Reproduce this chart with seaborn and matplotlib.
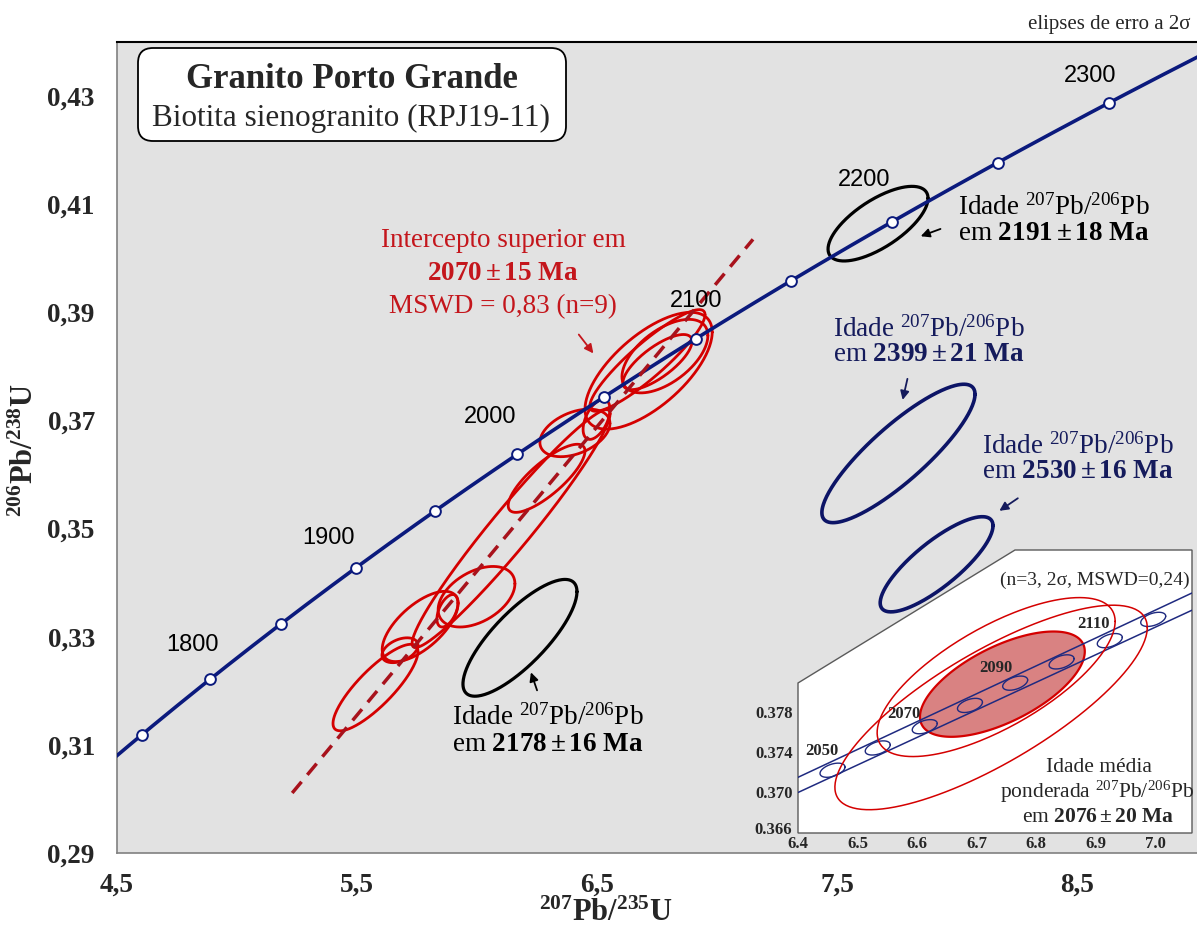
import numpy as np
import pandas as pd
import matplotlib
matplotlib.use("Agg")
import matplotlib.pyplot as plt
import seaborn as sns
from matplotlib.patches import FancyBboxPatch, Polygon
from matplotlib.transforms import ScaledTranslation

# decay constants (1/yr)
L238 = 1.55125e-10
L235 = 9.8485e-10

# concordia age marks (Ma) and the labelled ones with their label shift (pixels)
tick_ages = [1750, 1800, 1850, 1900, 1950, 2000, 2050, 2100, 2150, 2200, 2250, 2300]
label_ages = [1800, 1900, 2000, 2100, 2200, 2300]
label_shift = [(-17, 34), (-28, 30), (-27, 37), (1, 38), (-28, 42), (-19, 27)]

# zircon spots: 2σ ellipse centre, half-extent in x / y and error correlation
red_x = [5.577, 5.679, 5.763, 5.877, 5.998, 6.142, 6.290, 6.408, 6.498, 6.715, 6.710, 6.783, 6.752]
red_y = [0.3206, 0.3275, 0.3319, 0.3348, 0.3374, 0.3500, 0.3593, 0.3677, 0.3702, 0.3792, 0.3811, 0.3819, 0.3808]
red_dx = [0.177, 0.075, 0.158, 0.044, 0.160, 0.4125, 0.160, 0.146, 0.056, 0.265, 0.240, 0.179, 0.144]
red_dy = [0.0080, 0.0023, 0.0065, 0.0030, 0.0056, 0.0220, 0.0063, 0.0044, 0.0037, 0.0108, 0.0094, 0.0068, 0.0051]
red_rho = [0.83, 0.40, 0.65, 0.50, 0.43, 0.965, 0.80, 0.40, 0.50, 0.66, 0.90, 0.56, 0.75]

black_x = [6.179, 7.671]
black_y = [0.3298, 0.4064]
black_dx = [0.2375, 0.2083]
black_dy = [0.0108, 0.0069]
black_rho = [0.79, 0.68]

navy_x = [7.756, 7.915]
navy_y = [0.3639, 0.3434]
navy_dx = [0.319, 0.235]
navy_dy = [0.0128, 0.0088]
navy_rho = [0.855, 0.81]

# discordia (upper intercept 2070 Ma)
disc_x = [5.23, 7.15]
disc_y = [0.3011, 0.4035]

# axis ticks
x_ticks = [4.5, 5.0, 5.5, 6.0, 6.5, 7.0, 7.5, 8.0, 8.5]
x_labels = ["4,5", "", "5,5", "", "6,5", "", "7,5", "", "8,5"]
y_ticks = [0.29, 0.30, 0.31, 0.32, 0.33, 0.34, 0.35, 0.36, 0.37, 0.38, 0.39, 0.40, 0.41, 0.42, 0.43]
y_labels = ["0,29", "", "0,31", "", "0,33", "", "0,35", "", "0,37", "", "0,39", "", "0,41", "", "0,43"]

# detail window: concordia band with decay-constant errors
band_x = [6.40, 7.062]
band_hi = [0.3715, 0.3897]
band_lo = [0.3700, 0.3880]
band_tick_x = [6.458, 6.534, 6.613, 6.689, 6.765, 6.843, 6.924, 6.997]
band_tick_y = [0.3722, 0.3744, 0.3765, 0.3786, 0.3808, 0.3829, 0.3850, 0.3871]
band_labels = ["2050", "2070", "2090", "2110"]
band_label_x = [6.440, 6.578, 6.733, 6.896]
band_label_y = [0.3741, 0.3778, 0.3823, 0.3866]

ins_x = [6.7245, 6.733]
ins_y = [0.3784, 0.3814]
ins_dx = [0.2625, 0.200]
ins_dy = [0.0101, 0.00785]
ins_rho = [0.78, 0.70]
mean_x, mean_y, mean_dx, mean_dy, mean_rho = [6.7435], [0.3807], [0.1385], [0.0052], [0.62]

ins_xticks = [6.4, 6.5, 6.6, 6.7, 6.8, 6.9, 7.0]
ins_xlabels = ["6.4", "6.5", "6.6", "6.7", "6.8", "6.9", "7.0"]
ins_yticks = [0.366, 0.370, 0.374, 0.378]
ins_ylabels = ["0.366", "0.370", "0.374", "0.378"]

RED = "#d40000"
RED_TXT = "#c4161c"
NAVY = "#0c1466"
NAVY_TXT = "#151b5c"
CONC = "#0b1a7d"


def concordia(age_ma):
    a = np.asarray(age_ma, dtype=float) * 1e6
    return np.expm1(L235 * a), np.expm1(L238 * a)


def ellipse_frame(xs, ys, dxs, dys, rhos, n=240):
    t = np.linspace(0, 2 * np.pi, n)
    parts = []
    for k, (cx, cy, dx, dy, r) in enumerate(zip(xs, ys, dxs, dys, rhos)):
        ex = cx + dx * np.cos(t)
        ey = cy + dy * (r * np.cos(t) + np.sqrt(1 - r * r) * np.sin(t))
        parts.append(pd.DataFrame({"x": ex, "y": ey, "id": k}))
    return pd.concat(parts, ignore_index=True)


sns.set_theme(style="white")
plt.rcParams["font.family"] = ["Liberation Serif", "DejaVu Serif"]
plt.rcParams["mathtext.fontset"] = "custom"
plt.rcParams["mathtext.rm"] = "Liberation Serif"
plt.rcParams["mathtext.it"] = "Liberation Serif:italic"
plt.rcParams["mathtext.bf"] = "Liberation Serif:bold"

W, H = 1197, 927
fig = plt.figure(figsize=(W / 100, H / 100), dpi=100)
fig.patch.set_facecolor("white")

ax = fig.add_axes([117 / W, (H - 853) / H, (W - 117) / W, (853 - 42) / H])
ax.set_facecolor("#e2e2e2")
ax.set_xlim(4.5, 9.0)
ax.set_ylim(0.29, 0.44)

# concordia curve and age marks
conc_age = np.linspace(1650, 2450, 400)
cx, cy = concordia(conc_age)
sns.lineplot(x=cx, y=cy, sort=False, color=CONC, linewidth=2.6, ax=ax, zorder=3)
mx, my = concordia(tick_ages)
sns.scatterplot(x=mx, y=my, s=60, color="white", edgecolor=CONC, linewidth=1.4, ax=ax, zorder=5)
for age, (ox, oy) in zip(label_ages, label_shift):
    px, py = concordia(age)
    ax.annotate(str(age), (px, py), xytext=(ox, oy), textcoords="offset pixels",
                ha="center", va="center", fontsize=17, family="Liberation Sans", color="black", zorder=6)

# error ellipses
for xs, ys, dxs, dys, rhos, col, lw in [
    (red_x, red_y, red_dx, red_dy, red_rho, RED, 2.0),
    (black_x, black_y, black_dx, black_dy, black_rho, "black", 2.3),
    (navy_x, navy_y, navy_dx, navy_dy, navy_rho, NAVY, 2.6),
]:
    df = ellipse_frame(xs, ys, dxs, dys, rhos)
    sns.lineplot(data=df, x="x", y="y", units="id", estimator=None, sort=False,
                 color=col, linewidth=lw, ax=ax, legend=False, zorder=2)

# discordia
disc_line, = ax.plot(disc_x, disc_y, color="#a8121c", linewidth=2.5, zorder=4)
disc_line.set_dashes([4.2, 2.6])

# axes styling
ax.set_xticks(x_ticks)
ax.set_xticklabels(x_labels)
ax.set_yticks(y_ticks)
ax.set_yticklabels(y_labels)
ax.tick_params(axis="both", direction="in", length=6, width=1, color="#777777", labelsize=19.5)
ax.tick_params(axis="x", pad=14)
ax.tick_params(axis="y", pad=16)
for lbl in ax.get_xticklabels() + ax.get_yticklabels():
    lbl.set_fontweight("bold")
ax.set_xlabel("")
ax.set_ylabel("")
ax.spines["right"].set_visible(False)
ax.spines["top"].set_color("black")
ax.spines["top"].set_linewidth(1.5)
for s in ("left", "bottom"):
    ax.spines[s].set_color("#808080")
    ax.spines[s].set_linewidth(1.2)

fig.text(606 / W, 1 - 913 / H, r"$^{\mathbf{207}}$Pb/$^{\mathbf{235}}$U", ha="center", va="center",
         fontsize=22, fontweight="bold")
fig.text(25 / W, 1 - 450 / H, r"$^{\mathbf{206}}$Pb/$^{\mathbf{238}}$U", ha="center", va="center",
         fontsize=22, fontweight="bold", rotation=90)

# annotations
iso = r"Idade $^{\mathrm{207}}$Pb/$^{\mathrm{206}}$Pb"
FS = 19.5
ax.text(6.108, 0.4032, "Intercepto superior em", ha="center", va="center", fontsize=FS, color=RED_TXT, zorder=6)
ax.text(6.108, 0.3972, r"$\mathbf{2070 \pm 15\ Ma}$", ha="center", va="center", fontsize=FS, color=RED_TXT, zorder=6)
ax.text(6.108, 0.3911, "MSWD = 0,83 (n=9)", ha="center", va="center", fontsize=FS, color=RED_TXT, zorder=6)
ax.annotate("", xy=(6.492, 0.3820), xytext=(6.417, 0.3863),
            arrowprops=dict(arrowstyle="-|>", color=RED_TXT, lw=1.3, mutation_scale=13), zorder=6)

ax.text(6.296, 0.3150, iso, ha="center", va="center", fontsize=FS, color="black", zorder=6)
ax.text(6.296, 0.3100, r"em $\mathbf{2178 \pm 16\ Ma}$", ha="center", va="center", fontsize=FS, color="black", zorder=6)
ax.annotate("", xy=(6.221, 0.3239), xytext=(6.254, 0.3196),
            arrowprops=dict(arrowstyle="-|>", color="black", lw=1.3, mutation_scale=13), zorder=6)

ax.text(8.004, 0.4094, iso, ha="left", va="center", fontsize=FS, color="black", zorder=6)
ax.text(8.004, 0.4046, r"em $\mathbf{2191 \pm 18\ Ma}$", ha="left", va="center", fontsize=FS, color="black", zorder=6)
ax.annotate("", xy=(7.838, 0.4039), xytext=(7.942, 0.4056),
            arrowprops=dict(arrowstyle="-|>", color="black", lw=1.3, mutation_scale=13), zorder=6)

ax.text(7.883, 0.3868, iso, ha="center", va="center", fontsize=FS, color=NAVY_TXT, zorder=6)
ax.text(7.883, 0.3822, r"em $\mathbf{2399 \pm 21\ Ma}$", ha="center", va="center", fontsize=FS, color=NAVY_TXT, zorder=6)
ax.annotate("", xy=(7.771, 0.3733), xytext=(7.796, 0.3782),
            arrowprops=dict(arrowstyle="-|>", color=NAVY_TXT, lw=1.3, mutation_scale=13), zorder=6)

ax.text(8.504, 0.3652, iso, ha="center", va="center", fontsize=FS, color=NAVY_TXT, zorder=6)
ax.text(8.504, 0.3606, r"em $\mathbf{2530 \pm 16\ Ma}$", ha="center", va="center", fontsize=FS, color=NAVY_TXT, zorder=6)
ax.annotate("", xy=(8.167, 0.3530), xytext=(8.263, 0.3559),
            arrowprops=dict(arrowstyle="-|>", color=NAVY_TXT, lw=1.3, mutation_scale=13), zorder=6)

# title box
box = FancyBboxPatch((138 / W, 1 - 141 / H), 428 / W, 93 / H,
                     boxstyle="round,pad=0,rounding_size=0.0125", mutation_aspect=W / H,
                     transform=fig.transFigure, facecolor="white", edgecolor="black", linewidth=1.3, zorder=2)
fig.add_artist(box)
fig.text(352 / W, 1 - 80 / H, "Granito Porto Grande", ha="center", va="center", fontsize=25,
         fontweight="bold", zorder=3)
fig.text(351 / W, 1 - 118 / H, "Biotita sienogranito (RPJ19-11)", ha="center", va="center",
         fontsize=22.5, zorder=3)
fig.text(1190 / W, 1 - 24 / H, "elipses de erro a 2σ", ha="right", va="center", fontsize=15)

# detail window
ins_left, ins_right, ins_bot, ins_top = 798, 1192, 833, 550
axi = fig.add_axes([ins_left / W, (H - ins_bot) / H, (ins_right - ins_left) / W, (ins_bot - ins_top) / H])
axi.patch.set_visible(False)
axi.set_xlim(6.4, 6.4 + (ins_right - ins_left) / 595)
axi.set_ylim(0.366, 0.366 + (ins_bot - ins_top) * 0.004 / 40.5)
for s in axi.spines.values():
    s.set_visible(False)
frame = Polygon([(0, 0), (0, (833 - 683) / 283), ((1015 - 798) / 394, 1), (1, 1), (1, 0)],
                closed=True, transform=axi.transAxes, facecolor="white", edgecolor="#5a5a5a",
                linewidth=1.0, zorder=0, clip_on=False)
axi.add_patch(frame)

mean_df = ellipse_frame(mean_x, mean_y, mean_dx, mean_dy, mean_rho)
axi.fill(mean_df["x"], mean_df["y"], facecolor="#d98282", edgecolor=RED, linewidth=1.6, zorder=1)
sns.lineplot(x=band_x, y=band_hi, color="#1f2a80", linewidth=1.1, ax=axi, zorder=2)
sns.lineplot(x=band_x, y=band_lo, color="#1f2a80", linewidth=1.1, ax=axi, zorder=2)
tick_df = ellipse_frame(band_tick_x, band_tick_y, [0.021] * len(band_tick_x),
                        [0.0007] * len(band_tick_x), [0.45] * len(band_tick_x))
sns.lineplot(data=tick_df, x="x", y="y", units="id", estimator=None, sort=False,
             color="#1f2a80", linewidth=1.0, ax=axi, legend=False, zorder=3)
ins_df = ellipse_frame(ins_x, ins_y, ins_dx, ins_dy, ins_rho)
sns.lineplot(data=ins_df, x="x", y="y", units="id", estimator=None, sort=False,
             color=RED, linewidth=1.1, ax=axi, legend=False, zorder=4)
for lab, lx, ly in zip(band_labels, band_label_x, band_label_y):
    axi.text(lx, ly, lab, ha="center", va="center", fontsize=12, fontweight="bold", zorder=5)

axi.set_xticks(ins_xticks)
axi.set_xticklabels(ins_xlabels)
axi.set_yticks(ins_yticks)
axi.set_yticklabels(ins_ylabels)
axi.tick_params(axis="both", labelsize=12, length=3, width=0.8, color="#555555")
axi.tick_params(axis="x", direction="in", pad=2.5)
axi.tick_params(axis="y", direction="out", pad=1)
for lbl in axi.get_xticklabels() + axi.get_yticklabels():
    lbl.set_fontweight("bold")
# lift the lowest y label clear of the x labels
low_lbl = axi.get_yticklabels()[0]
low_lbl.set_transform(low_lbl.get_transform() + ScaledTranslation(0, 5 / 100, fig.dpi_scale_trans))
axi.set_xlabel("")
axi.set_ylabel("")

axi.text(0.995, 0.894, "(n=3, 2σ, MSWD=0,24)", transform=axi.transAxes, ha="right", va="center", fontsize=14)
axi.text(0.764, 0.233, "Idade média", transform=axi.transAxes, ha="center", va="center", fontsize=15.5)
axi.text(0.758, 0.145, r"ponderada $^{\mathrm{207}}$Pb/$^{\mathrm{206}}$Pb", transform=axi.transAxes,
         ha="center", va="center", fontsize=15.5)
axi.text(0.761, 0.0565, r"em $\mathbf{2076 \pm 20\ Ma}$", transform=axi.transAxes,
         ha="center", va="center", fontsize=15.5)

fig.savefig("out.png", dpi=100)
